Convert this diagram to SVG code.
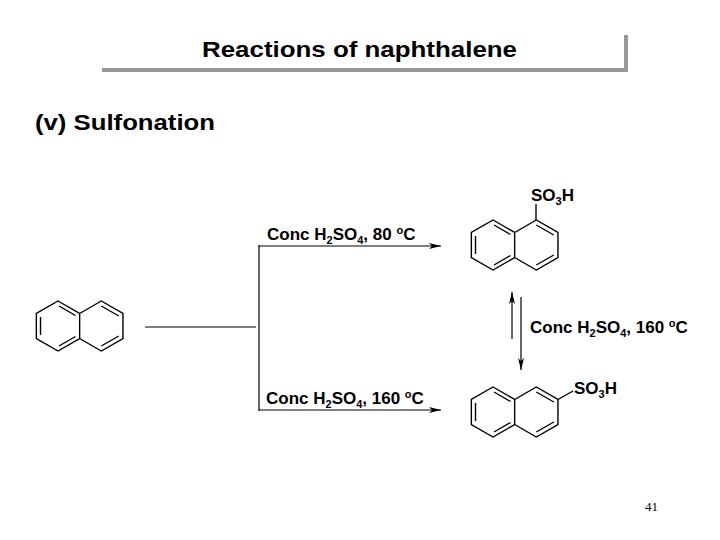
<svg xmlns="http://www.w3.org/2000/svg" width="720" height="540" viewBox="0 0 720 540">
<defs>
<style>
.b{stroke:#000;stroke-width:1.4;fill:none}
.t{font-family:"Liberation Sans",Arial,sans-serif;fill:#000}
.lbl{font-family:"Liberation Sans",Arial,sans-serif;font-weight:bold;font-size:17px}
.c{stroke:#000;stroke-width:1.2;fill:none}
</style>
<marker id="ah" markerWidth="12" markerHeight="8" refX="12" refY="4" orient="auto" markerUnits="userSpaceOnUse"><path d="M0,1 L12,4 L0,7 L3,4 Z" fill="#000"/></marker>
<g id="naph">
<path class="b" d="M0,-25 L21.65,-12.5 L21.65,12.5 L0,25 L-21.65,12.5 L-21.65,-12.5 Z M21.65,-12.5 L43.3,-25 L64.95,-12.5 L64.95,12.5 L43.3,25 L21.65,12.5"/>
<path class="b" d="M-17.5,-9 L-17.5,9 M1,-20 L17.5,-10.5 M1,20 L17.5,10.5 M43.3,-20 L60.8,-10 M43.3,20 L60.8,10"/>
</g>
</defs>
<rect width="720" height="540" fill="#fff"/>
<g id="title">
<path d="M102,70 L626,70 L626,35" stroke="#999" stroke-width="4" fill="none"/>
<text class="t" x="202" y="57" font-size="22" font-weight="bold" textLength="315" lengthAdjust="spacingAndGlyphs">Reactions of naphthalene</text>
</g>
<text class="t" x="35" y="130" font-size="22" font-weight="bold" textLength="180" lengthAdjust="spacingAndGlyphs">(v) Sulfonation</text>
<g id="naphthalene"><use href="#naph" x="58" y="326"/></g>
<g id="alpha">
<use href="#naph" x="493" y="245"/>
<line class="b" x1="536" y1="220" x2="536" y2="204"/>
<text class="lbl" x="531" y="201">SO<tspan font-size="11" dy="4">3</tspan><tspan dy="-4">H</tspan></text>
</g>
<g id="beta">
<use href="#naph" x="493" y="412"/>
<line class="b" x1="558" y1="399.5" x2="573" y2="391"/>
<text class="lbl" x="574" y="394">SO<tspan font-size="11" dy="4">3</tspan><tspan dy="-4">H</tspan></text>
</g>
<g id="connectors">
<line class="c" x1="145" y1="327" x2="256" y2="327"/>
<line class="c" x1="259" y1="245" x2="259" y2="411"/>
<line class="c" x1="259" y1="246" x2="441" y2="246" marker-end="url(#ah)"/>
<line class="c" x1="259" y1="410" x2="441" y2="410" marker-end="url(#ah)"/>
<line class="c" x1="512" y1="339" x2="512" y2="292" marker-end="url(#ah)"/>
<line class="c" x1="521" y1="297" x2="521" y2="370" marker-end="url(#ah)"/>
</g>
<g id="labels">
<text class="lbl" x="267" y="240">Conc H<tspan font-size="11" dy="4">2</tspan><tspan dy="-4">SO</tspan><tspan font-size="11" dy="4">4</tspan><tspan dy="-4">, 80 </tspan><tspan font-size="11" dy="-6">o</tspan><tspan dy="6">C</tspan></text>
<text class="lbl" x="266" y="404">Conc H<tspan font-size="11" dy="4">2</tspan><tspan dy="-4">SO</tspan><tspan font-size="11" dy="4">4</tspan><tspan dy="-4">, 160 </tspan><tspan font-size="11" dy="-6">o</tspan><tspan dy="6">C</tspan></text>
<text class="lbl" x="530" y="333">Conc H<tspan font-size="11" dy="4">2</tspan><tspan dy="-4">SO</tspan><tspan font-size="11" dy="4">4</tspan><tspan dy="-4">, 160 </tspan><tspan font-size="11" dy="-6">o</tspan><tspan dy="6">C</tspan></text>
</g>
<text x="645" y="511" font-family="Liberation Serif,serif" font-size="13">41</text>
</svg>
